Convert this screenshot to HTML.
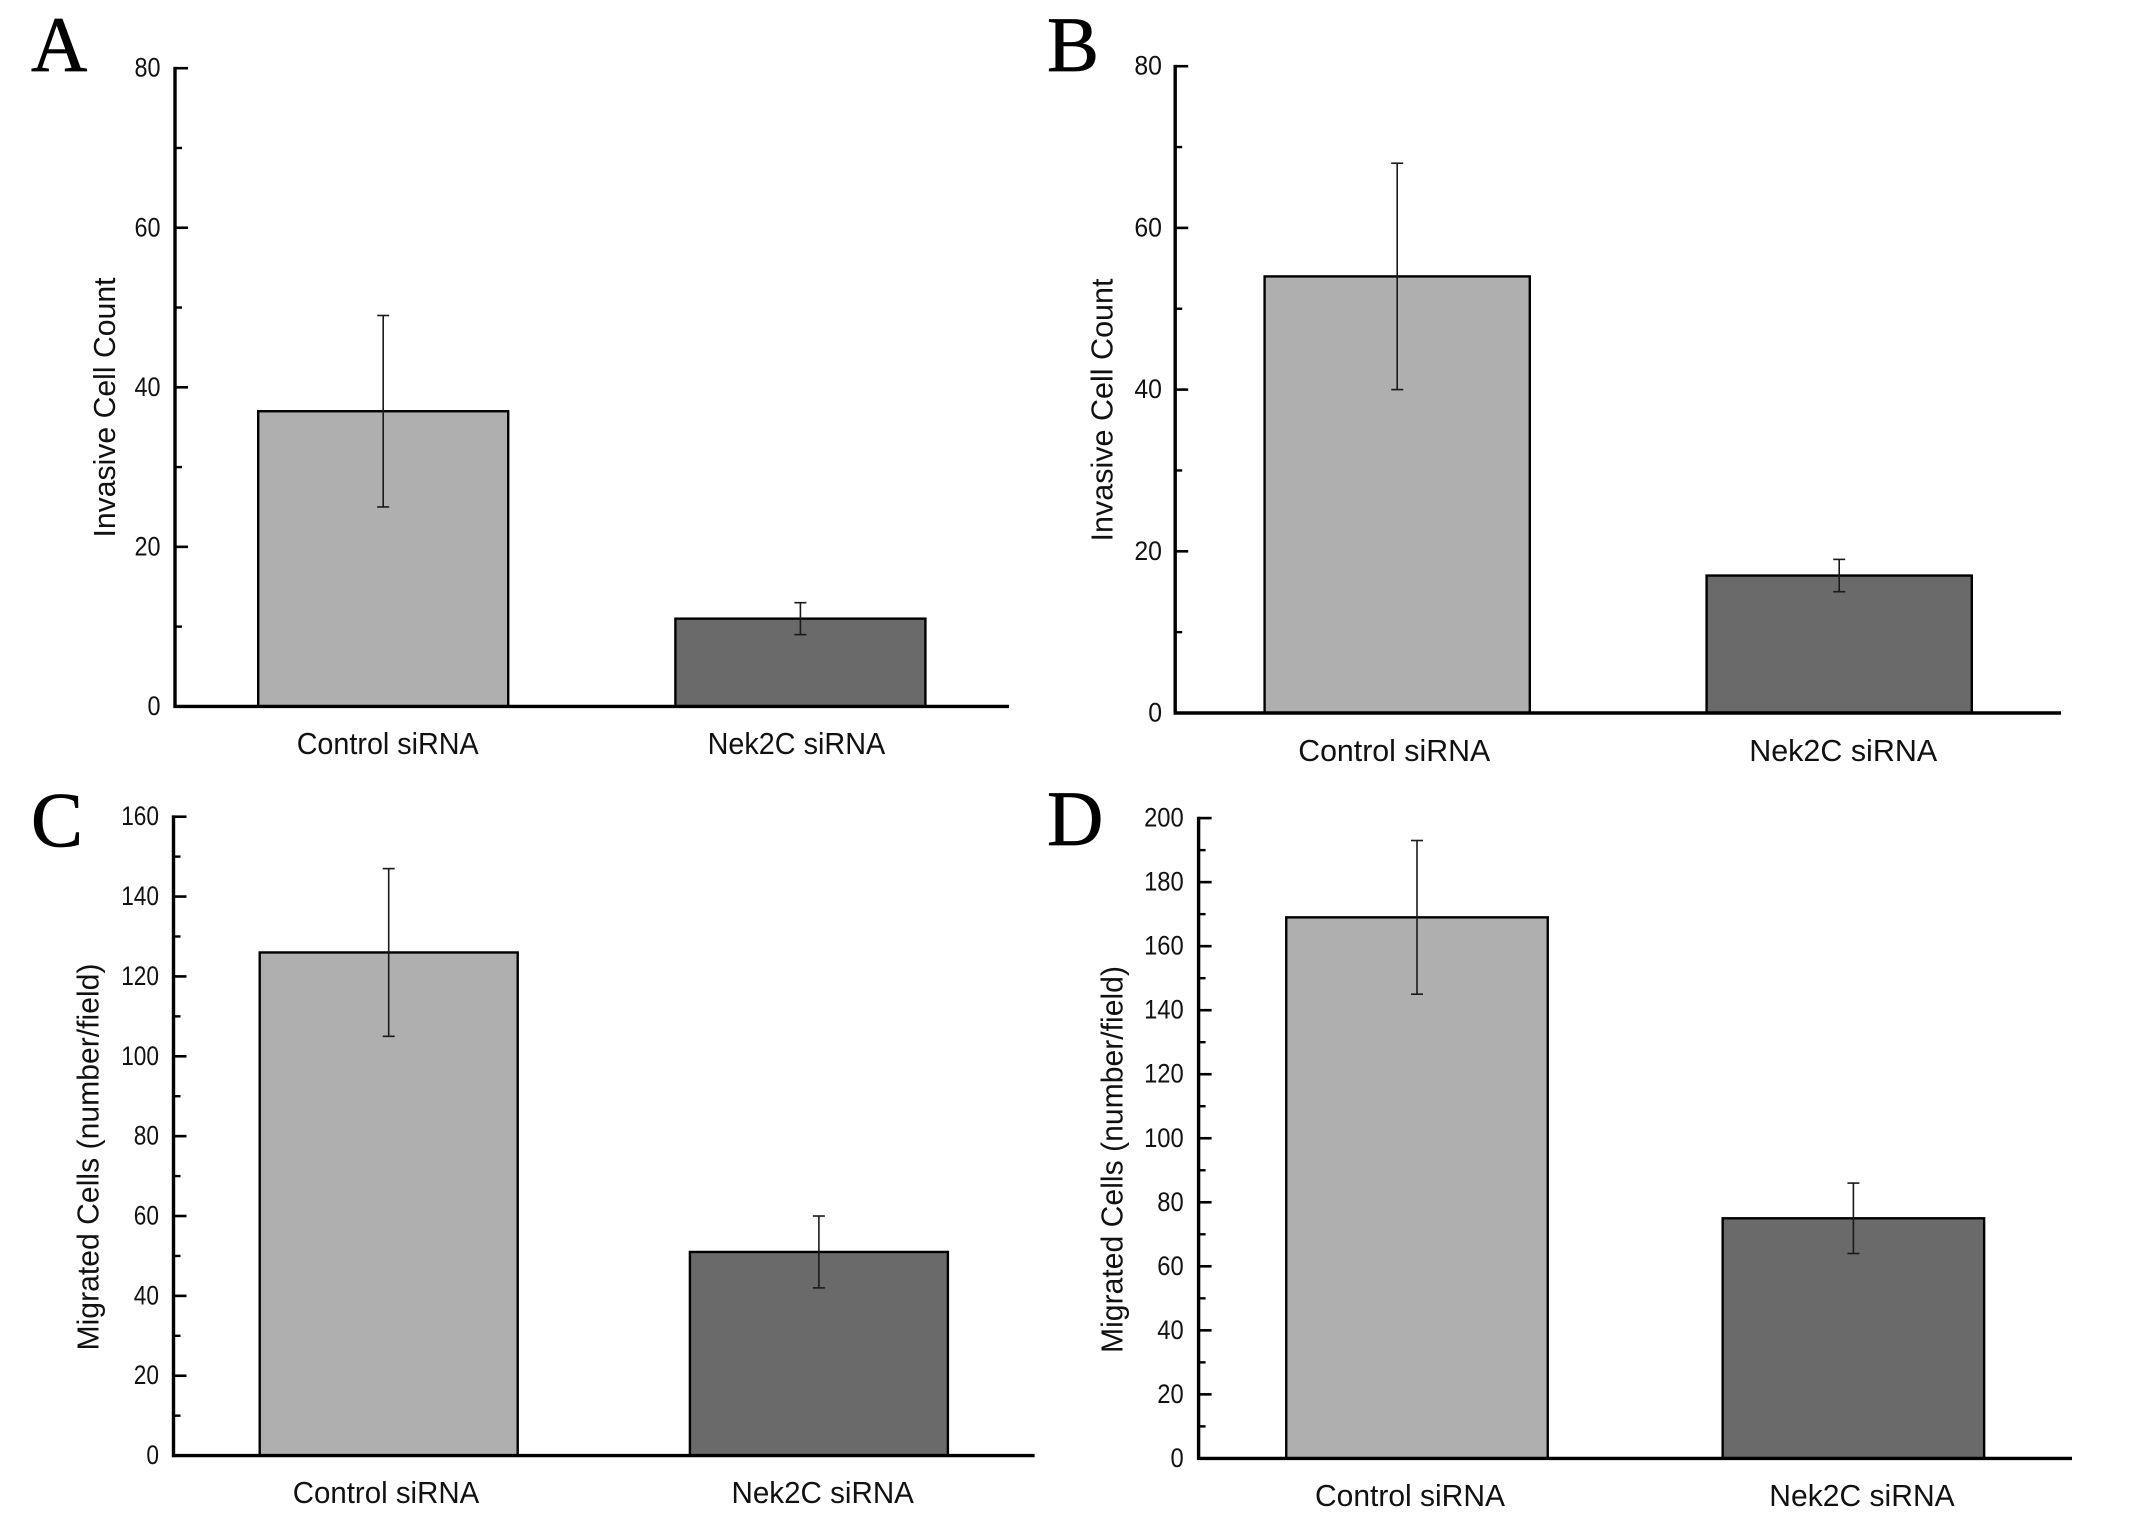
<!DOCTYPE html>
<html lang="en">
<head>
<meta charset="utf-8">
<title>Invasive and migrated cell counts: Control vs Nek2C siRNA</title>
<style>
  html, body { margin: 0; padding: 0; background: #fff; }
  #figure { display: block; width: 2150px; height: 1527px; }
  text { fill: #111; font-family: "Liberation Sans", sans-serif; }
  .panel-letter { font-family: "Liberation Serif", serif; font-size: 78px; fill: #000; stroke: #000; stroke-width: 0.7px; }
</style>
</head>
<body>
<svg id="figure" xmlns="http://www.w3.org/2000/svg" width="2150" height="1527" viewBox="0 0 2150 1527"></svg>
<script>
const categories = ["Control siRNA", "Nek2C siRNA"];
const barColors = ["#afafaf", "#6a6a6a"];

const titleInvasive = "Invasive Cell Count";
const titleMigrated = "Migrated Cells (number/field)";

const ticksA = [0, 20, 40, 60, 80];
const valuesA = [37, 11];
const errLowA = [25, 9];
const errHighA = [49, 13];

const ticksB = [0, 20, 40, 60, 80];
const valuesB = [54, 17];
const errLowB = [40, 15];
const errHighB = [68, 19];

const ticksC = [0, 20, 40, 60, 80, 100, 120, 140, 160];
const valuesC = [126, 51];
const errLowC = [105, 42];
const errHighC = [147, 60];

const ticksD = [0, 20, 40, 60, 80, 100, 120, 140, 160, 180, 200];
const valuesD = [169, 75];
const errLowD = [145, 64];
const errHighD = [193, 86];

const panels = [
  { id: "a", letter: "A", ticks: ticksA, values: valuesA, low: errLowA, high: errHighA, title: titleInvasive,
    axisX: 175, axisEnd: 1009, yZero: 706.4, yTop: 68.2, firstCenter: 383.2, step: 417.2, barWidth: 250,
    letterX: 31, letterY: 71, tickRight: 160.5, digitW: 13, titleX: 115, titleY: 407.5, titleLen: 260,
    labelY: 754, labelDx: [4.5, -4], labelW: [182, 177.6] },
  { id: "b", letter: "B", ticks: ticksB, values: valuesB, low: errLowB, high: errHighB, title: titleInvasive,
    axisX: 1175.2, axisEnd: 2061, yZero: 713, yTop: 66.2, firstCenter: 1397.2, step: 442, barWidth: 265.2,
    letterX: 1047, letterY: 71, tickRight: 1162, digitW: 13.8, titleX: 1112.6, titleY: 410, titleLen: 263,
    labelY: 761, labelDx: [-3, 4], labelW: [192, 188] },
  { id: "c", letter: "C", ticks: ticksC, values: valuesC, low: errLowC, high: errHighC, title: titleMigrated,
    axisX: 173.5, axisEnd: 1034.6, yZero: 1455.6, yTop: 816.7, firstCenter: 388.7, step: 430.2, barWidth: 258,
    letterX: 31, letterY: 846, tickRight: 159, digitW: 12.6, titleX: 98.4, titleY: 1157, titleLen: 387,
    labelY: 1503.2, labelDx: [-2.7, 3.8], labelW: [186.5, 182.4] },
  { id: "d", letter: "D", ticks: ticksD, values: valuesD, low: errLowD, high: errHighD, title: titleMigrated,
    axisX: 1198.6, axisEnd: 2072, yZero: 1458.4, yTop: 818.1, firstCenter: 1417, step: 436.4, barWidth: 261.5,
    letterX: 1047, letterY: 845, tickRight: 1183.7, digitW: 13.2, titleX: 1122.5, titleY: 1159.5, titleLen: 387,
    labelY: 1506, labelDx: [-7, 8.6], labelW: [190, 185.4] }
];

const svg = document.getElementById("figure");
const NS = "http://www.w3.org/2000/svg";

function make(tag, parent, attrs, content) {
  const el = document.createElementNS(NS, tag);
  for (const key in attrs) el.setAttribute(key, attrs[key]);
  if (content !== undefined) el.textContent = content;
  parent.appendChild(el);
  return el;
}

function drawPanel(p) {
  const maxTick = p.ticks[p.ticks.length - 1];
  const yScale = v => p.yZero - (v / maxTick) * (p.yZero - p.yTop);
  const xCenter = i => p.firstCenter + i * p.step;

  const group = make("g", svg, {});
  
  

  const letter = make("text", group, { x: p.letterX, y: p.letterY, class: "panel-letter" }, p.letter);
  
  

  p.values.forEach((value, i) => {
    const bar = make("rect", group, {
      x: xCenter(i) - p.barWidth / 2,
      y: yScale(value),
      width: p.barWidth,
      height: p.yZero - yScale(value),
      fill: barColors[i],
      stroke: "#000",
      "stroke-width": 2.4
    });
    
    

    const errorBar = make("g", group, { stroke: "#1a1a1a", "stroke-width": 1.6 });
    
    
    const cx = xCenter(i);
    make("line", errorBar, { x1: cx, x2: cx, y1: yScale(p.high[i]), y2: yScale(p.low[i]) });
    make("line", errorBar, { x1: cx - 6, x2: cx + 6, y1: yScale(p.high[i]), y2: yScale(p.high[i]) });
    make("line", errorBar, { x1: cx - 6, x2: cx + 6, y1: yScale(p.low[i]), y2: yScale(p.low[i]) });

    const label = make("text", group, {
      x: cx + p.labelDx[i],
      y: p.labelY,
      "text-anchor": "middle",
      "font-size": 30.5,
      textLength: p.labelW[i],
      lengthAdjust: "spacingAndGlyphs"
    }, categories[i]);
    
    
  });

  const yAxis = make("line", group, { x1: p.axisX, x2: p.axisX, y1: p.yTop - 1.3, y2: p.yZero + 1.5, stroke: "#000", "stroke-width": 3.4 });
  
  

  const xAxis = make("line", group, { x1: p.axisX - 1.5, x2: p.axisEnd, y1: p.yZero, y2: p.yZero, stroke: "#000", "stroke-width": 3.4 });
  
  

  p.ticks.forEach((tick, i) => {
    const major = make("line", group, { x1: p.axisX, x2: p.axisX + 13, y1: yScale(tick), y2: yScale(tick), stroke: "#000", "stroke-width": 2.6 });
    
    

    const digits = String(tick).length;
    const tickLabel = make("text", group, {
      x: p.tickRight,
      y: yScale(tick) + 8.5,
      "text-anchor": "end",
      "font-size": 26.5,
      textLength: digits * p.digitW,
      lengthAdjust: "spacingAndGlyphs"
    }, String(tick));
    
    

    if (i < p.ticks.length - 1) {
      const mid = (tick + p.ticks[i + 1]) / 2;
      const minor = make("line", group, { x1: p.axisX, x2: p.axisX + 7, y1: yScale(mid), y2: yScale(mid), stroke: "#000", "stroke-width": 2.4 });
      
      
    }
  });

  const title = make("text", group, {
    transform: "translate(" + p.titleX + "," + p.titleY + ") rotate(-90)",
    "text-anchor": "middle",
    "font-size": 31,
    textLength: p.titleLen,
    lengthAdjust: "spacingAndGlyphs"
  }, p.title);
  
  
}

panels.forEach(drawPanel);
</script>
</body>
</html>
